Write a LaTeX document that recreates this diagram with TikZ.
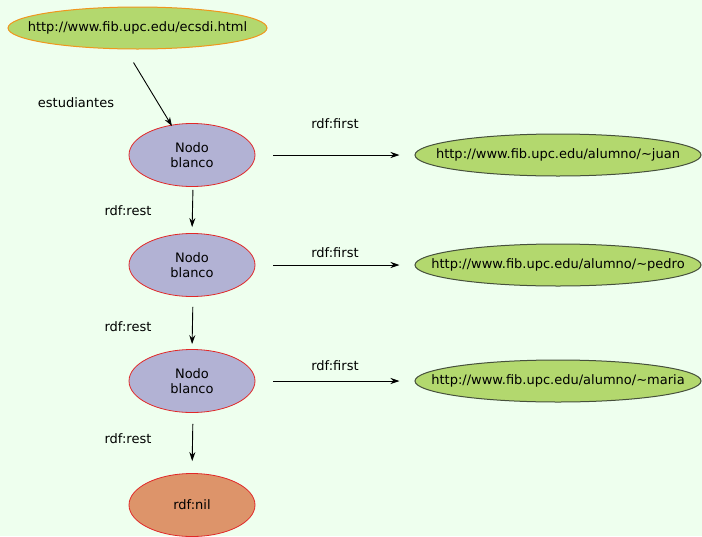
\documentclass[tikz,border=0pt]{standalone}
\usepackage{fontspec}
\setmainfont{DejaVu Sans}
\usetikzlibrary{shapes.geometric,arrows.meta}
\definecolor{bg}{RGB}{238,255,238}
\definecolor{urifill}{RGB}{179,216,110}
\definecolor{uriedge}{RGB}{70,80,60}
\definecolor{topedge}{RGB}{240,150,30}
\definecolor{blankfill}{RGB}{178,178,212}
\definecolor{niledge}{RGB}{225,40,40}
\definecolor{nilfill}{RGB}{221,148,106}
\begin{document}
\begin{tikzpicture}[x=1pt,y=-1pt,
  font=\fontsize{13}{15}\selectfont,
  uri/.style={ellipse,draw=uriedge,fill=urifill,line width=1pt,
              inner xsep=-40pt,inner ysep=0pt,
              minimum width=286pt,minimum height=42pt},
  blank/.style={ellipse,draw=niledge,fill=blankfill,line width=0.8pt,inner sep=0pt,
                minimum width=126pt,minimum height=63pt,align=center},
  arr/.style={line width=0.9pt,-{Stealth[length=9pt,width=6pt]}},
  lbl/.style={inner sep=0pt}]
  \fill[bg] (0,0) rectangle (702,536);
  \useasboundingbox (0,0) rectangle (702,536);

  % subject resource
  \node[uri,draw=topedge,minimum width=259pt,minimum height=42pt] (top) at (137.5,28) {http://www.fib.upc.edu/ecsdi.html};

  % list cells
  \node[blank] (n1) at (192,155) {Nodo\\blanco};
  \node[blank] (n2) at (192,265) {Nodo\\blanco};
  \node[blank] (n3) at (192,381) {Nodo\\blanco};
  \node[blank,fill=nilfill] (nil) at (192,505) {rdf:nil};

  % list members
  \node[uri] (juan)  at (558,155) {http://www.fib.upc.edu/alumno/\textasciitilde juan};
  \node[uri] (pedro) at (558,265) {http://www.fib.upc.edu/alumno/\textasciitilde pedro};
  \node[uri] (maria) at (558,381) {http://www.fib.upc.edu/alumno/\textasciitilde maria};

  % edges
  \draw[arr] ([xshift=-4pt,yshift=-13pt]top.south) -- ([xshift=-20pt,yshift=-3pt]n1.north);
  \node[lbl] (le) at (76,103) {estudiantes};

  \draw[arr,shorten <=18pt,shorten >=15pt] (n1.east) -- (juan.west);
  \draw[arr,shorten <=18pt,shorten >=15pt] (n2.east) -- (pedro.west);
  \draw[arr,shorten <=18pt,shorten >=15pt] (n3.east) -- (maria.west);
  \node[lbl] (f1) at (335,124) {rdf:first};
  \node[lbl] (f2) at (335,253) {rdf:first};
  \node[lbl] (f3) at (335,366) {rdf:first};

  \draw[arr,shorten <=3pt,shorten >=6pt] ([xshift=1pt]n1.south) -- (n2.north);
  \draw[arr,shorten <=10pt,shorten >=5pt] ([xshift=1pt]n2.south) -- (n3.north);
  \draw[arr,shorten <=11pt,shorten >=12pt] ([xshift=1pt]n3.south) -- (nil.north);
  \node[lbl] (r1) at (128,211) {rdf:rest};
  \node[lbl] (r2) at (128,327) {rdf:rest};
  \node[lbl] (r3) at (128,439) {rdf:rest};
\end{tikzpicture}
\end{document}
